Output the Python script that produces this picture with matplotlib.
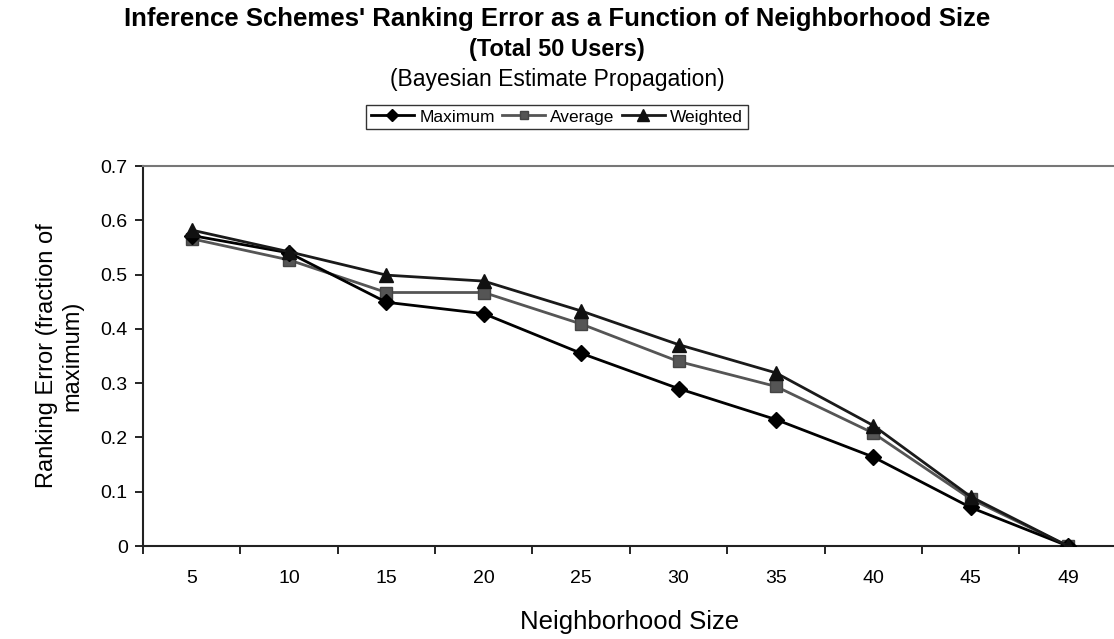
#!/usr/bin/env python3
"""Ranking error of the three inference schemes vs. neighborhood size
(Bayesian estimate propagation, 50 users). Writes out.png."""
import matplotlib
matplotlib.use("Agg")
import matplotlib.pyplot as plt
import numpy as np

plt.rcParams["font.family"] = ["Liberation Sans", "DejaVu Sans"]

SIZES = ["5", "10", "15", "20", "25", "30", "35", "40", "45", "49"]
MAXIMUM = [0.572, 0.540, 0.449, 0.428, 0.355, 0.290, 0.233, 0.164, 0.071, 0.0]
AVERAGE = [0.566, 0.527, 0.467, 0.467, 0.409, 0.340, 0.294, 0.208, 0.087, 0.0]
WEIGHTED = [0.582, 0.542, 0.499, 0.488, 0.433, 0.371, 0.319, 0.222, 0.091, 0.0]


def main():
    fig = plt.figure(figsize=(11.14, 6.39), dpi=100)
    ax = fig.add_axes([0.1284, 0.1455, 0.874, 0.5947])

    x = np.arange(len(SIZES))
    ax.plot(x, MAXIMUM, color="black", lw=2.0, marker="D", ms=8,
            mfc="black", mec="black", label="Maximum", zorder=3)
    ax.plot(x, AVERAGE, color="#555555", lw=2.0, marker="s", ms=8,
            mfc="#555555", mec="#444444", label="Average", zorder=2)
    ax.plot(x, WEIGHTED, color="#1a1a1a", lw=2.0, marker="^", ms=10,
            mfc="#111111", mec="#111111", label="Weighted", zorder=4)

    ax.set_xlim(-0.5, len(SIZES) - 0.5)
    ax.set_ylim(0, 0.7)
    ax.set_yticks(np.arange(0, 0.71, 0.1))
    ax.set_yticklabels(["0"] + [f"{v:.1f}" for v in np.arange(0.1, 0.71, 0.1)])

    # category axis: labels centred, tick marks between categories
    ax.set_xticks(x)
    ax.set_xticklabels(SIZES)
    ax.set_xticks(np.arange(-0.5, len(SIZES)), minor=True)
    ax.tick_params(axis="x", which="major", length=0, pad=17, labelsize=14)
    ax.tick_params(axis="x", which="minor", length=6, width=1.2, direction="out")
    ax.tick_params(axis="y", length=6, width=1.2, direction="out", pad=5, labelsize=14)

    ax.spines["right"].set_visible(False)
    ax.spines["top"].set_color("#777777")
    ax.spines["top"].set_linewidth(1.5)
    for s in ("left", "bottom"):
        ax.spines[s].set_linewidth(1.5)
        ax.spines[s].set_color("#222222")

    ax.set_xlabel("Neighborhood Size", fontsize=18.5, labelpad=17)
    ax.set_ylabel("Ranking Error (fraction of\nmaximum)", fontsize=17, labelpad=12)

    fig.text(0.5, 0.970, "Inference Schemes' Ranking Error as a Function of Neighborhood Size",
             ha="center", va="center", fontsize=18.5, fontweight="bold")
    fig.text(0.5, 0.922, "(Total 50 Users)", ha="center", va="center",
             fontsize=17, fontweight="bold")
    fig.text(0.5, 0.876, "(Bayesian Estimate Propagation)", ha="center", va="center",
             fontsize=16.5)

    leg = fig.legend(loc="center", bbox_to_anchor=(0.5, 0.817), ncol=3, fontsize=12.5,
                     frameon=True, fancybox=False, handlelength=2.5, handletextpad=0.3,
                     columnspacing=0.4, borderpad=0.25, markerscale=0.8)
    leg.get_frame().set_edgecolor("black")
    leg.get_frame().set_linewidth(1.0)

    fig.savefig("out.png", dpi=100)


if __name__ == "__main__":
    main()
